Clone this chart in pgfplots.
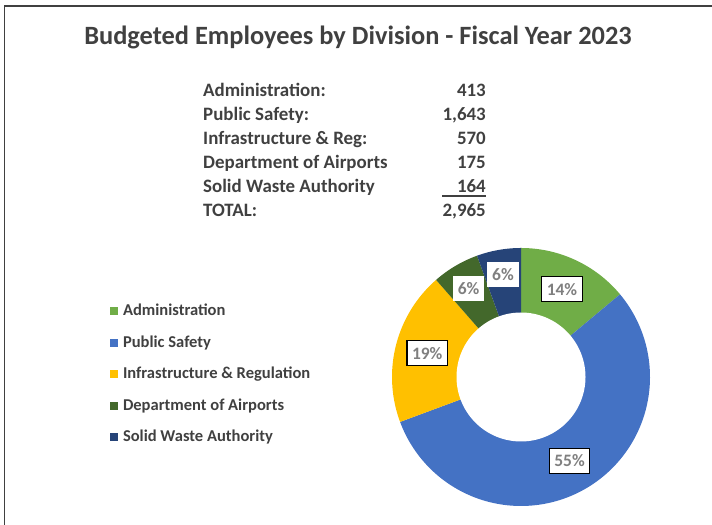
\documentclass[border=0pt]{standalone}
\usepackage{pgfplots}
\pgfplotsset{compat=1.18}
\usepackage{pgfplotstable}
\usepackage{fontspec}
\setmainfont{Carlito}
\definecolor{cAdmin}{HTML}{70AD47}
\definecolor{cPS}{HTML}{4472C4}
\definecolor{cInfra}{HTML}{FFC000}
\definecolor{cAir}{HTML}{43682B}
\definecolor{cSWA}{HTML}{264478}
\definecolor{txt}{HTML}{404040}
\definecolor{lbl}{HTML}{7F7F7F}

\pgfplotstableread{
employees
413
1643
570
175
164
}\divtable

\begin{document}
\begin{tikzpicture}[x=1bp,y=1bp,
  lblbox/.style={fill=white, text=lbl, inner xsep=5bp, inner ysep=0pt,
    minimum height=25bp, font=\fontsize{17.5}{20}\selectfont\bfseries}]
\useasboundingbox (0,0) rectangle (712,525);
\pgfplotstablegetelem{0}{employees}\of\divtable\edef\vA{\pgfplotsretval}%
\pgfplotstablegetelem{1}{employees}\of\divtable\edef\vB{\pgfplotsretval}%
\pgfplotstablegetelem{2}{employees}\of\divtable\edef\vC{\pgfplotsretval}%
\pgfplotstablegetelem{3}{employees}\of\divtable\edef\vD{\pgfplotsretval}%
\pgfplotstablegetelem{4}{employees}\of\divtable\edef\vE{\pgfplotsretval}%
\pgfmathtruncatemacro\total{\vA+\vB+\vC+\vD+\vE}%
\pgfmathsetmacro\fA{\vA/\total}%
\pgfmathsetmacro\fB{\vB/\total}%
\pgfmathsetmacro\fC{\vC/\total}%
\pgfmathsetmacro\fD{\vD/\total}%
\pgfmathsetmacro\fE{\vE/\total}%
\pgfmathsetmacro\aA{90}%
\pgfmathsetmacro\aB{90-360*\fA}%
\pgfmathsetmacro\aC{90-360*(\fA+\fB)}%
\pgfmathsetmacro\aD{90-360*(\fA+\fB+\fC)}%
\pgfmathsetmacro\aE{90-360*(\fA+\fB+\fC+\fD)}%
\pgfmathsetmacro\aF{-270}%
\pgfmathsetmacro\mA{(\aA+\aB)/2}%
\pgfmathsetmacro\mB{(\aB+\aC)/2}%
\pgfmathsetmacro\mC{(\aC+\aD)/2}%
\pgfmathsetmacro\mD{(\aD+\aE)/2}%
\pgfmathsetmacro\mE{(\aE+\aF)/2}%
\pgfmathtruncatemacro\pA{round(100*\fA)}%
\pgfmathtruncatemacro\pB{round(100*\fB)}%
\pgfmathtruncatemacro\pC{round(100*\fC)}%
\pgfmathtruncatemacro\pD{round(100*\fD)}%
\pgfmathtruncatemacro\pE{round(100*\fE)}%
% frame
\draw[line width=1.3bp, black!75] (4.5,0) -- (4.5,519) -- (712,519);
% title
\node[anchor=base, text=txt, inner sep=0pt, font=\fontsize{26.5}{30}\selectfont\bfseries] at (358,480) {Budgeted Employees by Division - Fiscal Year 2023};
% summary table
\begin{scope}[every node/.style={inner sep=0pt, text=txt, font=\fontsize{19}{22}\selectfont\bfseries}]
\node[anchor=base west] at (203,428) {Administration:};
\node[anchor=base west] at (203,404) {Public Safety:};
\node[anchor=base west] at (203,380) {Infrastructure \& Reg:};
\node[anchor=base west] at (203,356) {Department of Airports};
\node[anchor=base west] at (203,332) {Solid Waste Authority};
\node[anchor=base west] at (203,308) {TOTAL:};
\node[anchor=base east] at (486,428) {\pgfmathprintnumber[assume math mode=true]{\vA}};
\node[anchor=base east] at (486,404) {\pgfmathprintnumber[assume math mode=true]{\vB}};
\node[anchor=base east] at (486,380) {\pgfmathprintnumber[assume math mode=true]{\vC}};
\node[anchor=base east] at (486,356) {\pgfmathprintnumber[assume math mode=true]{\vD}};
\node[anchor=base east] at (486,332) {\pgfmathprintnumber[assume math mode=true]{\vE}};
\node[anchor=base east] at (486,308) {\pgfmathprintnumber[assume math mode=true]{\total}};
\end{scope}
\draw[line width=1.1bp, txt] (442,329) -- (486,329);
% donut
\begin{axis}[
  at={(392bp,19bp)}, anchor=south west,
  width=258bp, height=258bp, scale only axis,
  xmin=-1, xmax=1, ymin=-1, ymax=1,
  hide axis, clip=false,
  legend cell align=left,
  legend image code/.code={\path[#1,draw=none] (0bp,-4bp) rectangle (8bp,4bp);},
  legend style={at={(-1.093,0.783)}, anchor=north west, draw=none, fill=none,
    inner sep=0pt, outer sep=0pt, row sep=16.5bp, column sep=0pt,
    font=\fontsize{16.6}{19}\selectfont\bfseries, text=txt,
    nodes={inner sep=0pt, text height=12bp, text depth=3bp},
    /tikz/every odd column/.append style={column sep=5bp}},
]
\addplot[fill=cAdmin, draw=none, domain=\aB:\aA, samples=60] ({cos(x)},{sin(x)}) -- (axis cs:0,0) -- cycle;
\addlegendentry{Administration}
\addplot[fill=cPS, draw=none, domain=\aC:\aB, samples=120] ({cos(x)},{sin(x)}) -- (axis cs:0,0) -- cycle;
\addlegendentry{Public Safety}
\addplot[fill=cInfra, draw=none, domain=\aD:\aC, samples=60] ({cos(x)},{sin(x)}) -- (axis cs:0,0) -- cycle;
\addlegendentry{Infrastructure \& Regulation}
\addplot[fill=cAir, draw=none, domain=\aE:\aD, samples=30] ({cos(x)},{sin(x)}) -- (axis cs:0,0) -- cycle;
\addlegendentry{Department of Airports}
\addplot[fill=cSWA, draw=none, domain=\aF:\aE, samples=30] ({cos(x)},{sin(x)}) -- (axis cs:0,0) -- cycle;
\addlegendentry{Solid Waste Authority}
\addplot[fill=white, draw=none, domain=0:360, samples=120, forget plot] ({0.5*cos(x)},{0.5*sin(x)}) -- cycle;
\node[lblbox, draw=black, line width=1.2bp] at (axis cs:{0.75*cos(\mA)},{0.75*sin(\mA)}) {\pA\%};
\node[lblbox, draw=black, line width=1.2bp] at (axis cs:{0.75*cos(\mB)},{0.75*sin(\mB)}) {\pB\%};
\node[lblbox, draw=black, line width=1.2bp] at (axis cs:{0.75*cos(\mC)},{0.75*sin(\mC)}) {\pC\%};
\node[lblbox] at (axis cs:{0.8*cos(\mD)},{0.8*sin(\mD)}) {\pD\%};
\node[lblbox] at (axis cs:{0.81*cos(\mE)},{0.81*sin(\mE)}) {\pE\%};
\end{axis}
\end{tikzpicture}
\end{document}
